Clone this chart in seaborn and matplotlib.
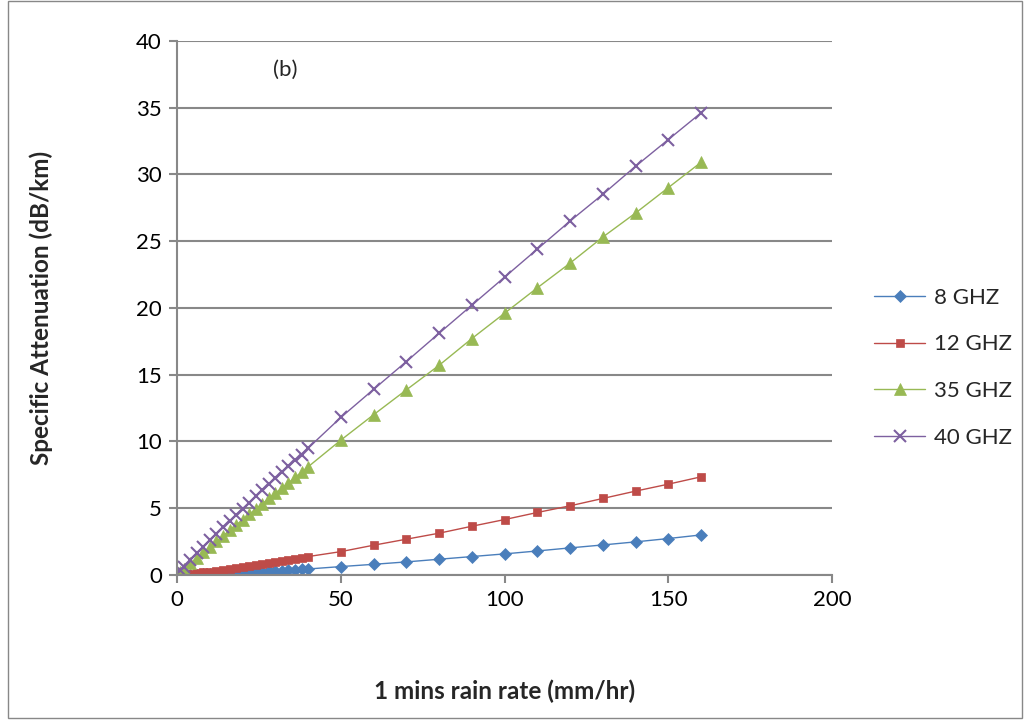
import matplotlib
matplotlib.use("Agg")
import matplotlib.pyplot as plt
import seaborn as sns
import pandas as pd
from matplotlib.patches import Rectangle

# rain rate (mm/hr)
rain_rate = [1, 2, 4, 6, 8, 10, 12, 14, 16, 18, 20, 22, 24, 26, 28, 30, 32, 34, 36, 38, 40,
             50, 60, 70, 80, 90, 100, 110, 120, 130, 140, 150, 160]

# specific attenuation (dB/km)
att_8 = [0.003, 0.007, 0.019, 0.034, 0.050, 0.068, 0.087, 0.107, 0.129, 0.151, 0.175,
         0.199, 0.224, 0.250, 0.277, 0.304, 0.332, 0.361, 0.391, 0.421, 0.45,
         0.63, 0.80, 0.98, 1.18, 1.38, 1.58, 1.80, 2.03, 2.25, 2.48, 2.73, 3.0]
att_12 = [0.016, 0.037, 0.086, 0.14, 0.198, 0.26, 0.32, 0.39, 0.46, 0.53, 0.60,
          0.67, 0.75, 0.82, 0.90, 0.98, 1.06, 1.14, 1.22, 1.30, 1.38,
          1.75, 2.23, 2.68, 3.13, 3.65, 4.15, 4.68, 5.18, 5.73, 6.28, 6.80, 7.35]
att_35 = [0.23, 0.45, 0.87, 1.29, 1.71, 2.12, 2.52, 2.93, 3.34, 3.74, 4.14,
          4.54, 4.93, 5.33, 5.73, 6.12, 6.51, 6.90, 7.30, 7.70, 8.1,
          10.1, 12.0, 13.86, 15.7, 17.7, 19.6, 21.5, 23.35, 25.3, 27.1, 29.0, 30.9]
att_40 = [0.40, 0.62, 1.11, 1.61, 2.11, 2.60, 3.08, 3.56, 4.03, 4.50, 4.96,
          5.42, 5.88, 6.34, 6.79, 7.24, 7.69, 8.13, 8.58, 9.02, 9.5,
          11.8, 13.9, 15.98, 18.1, 20.2, 22.3, 24.4, 26.5, 28.5, 30.6, 32.6, 34.6]

series_names = ["8 GHZ", "12 GHZ", "35 GHZ", "40 GHZ"]
colors = ["#4A7EBB", "#BE4B48", "#98B954", "#7D60A0"]
markers = ["D", "s", "^", "x"]
msizes = [6, 6, 9, 9]

df = pd.DataFrame({"rate": rain_rate * 4,
                   "att": att_8 + att_12 + att_35 + att_40,
                   "freq": sum([[n] * len(rain_rate) for n in series_names], [])})

sns.set_style("white")
plt.rcParams["font.family"] = ["Lato", "DejaVu Sans"]

fig = plt.figure(figsize=(10.24, 7.21), dpi=100)
ax = fig.add_axes([0.173, 0.2025, 0.6395, 0.741])

for name, c, m, s in zip(series_names, colors, markers, msizes):
    sns.lineplot(data=df[df["freq"] == name], x="rate", y="att", ax=ax,
                 color=c, marker=m, markersize=s, markeredgecolor=c,
                 markeredgewidth=1.5 if m == "x" else 0.5, linewidth=1.0,
                 label=name)

ax.set_xlim(0, 200)
ax.set_ylim(0, 40)
ax.set_xticks(range(0, 201, 50))
ax.set_yticks(range(0, 41, 5))
ax.grid(axis="y", color="#888888", linewidth=1.5)
ax.grid(axis="x", visible=False)
ax.set_axisbelow(True)
for sp in ["top", "right"]:
    ax.spines[sp].set_visible(False)
for sp in ["left", "bottom"]:
    ax.spines[sp].set_color("#888888")
    ax.spines[sp].set_linewidth(1.5)
ax.tick_params(axis="both", labelsize=16, colors="black", length=6, pad=5,
               width=1.5, direction="out", color="#888888", left=True, bottom=True)

ax.set_xlabel("1 mins rain rate (mm/hr)", fontsize=17.5, fontweight="bold")
ax.set_ylabel("Specific Attenuation (dB/km)", fontsize=17.5, fontweight="bold")
ax.xaxis.set_label_coords(0.5, -0.195)
ax.yaxis.set_label_coords(-0.19, 0.5)

ax.text(33, 37.8, "(b)", fontsize=16, ha="center", va="center")

ax.get_legend().remove()
fig.legend(*ax.get_legend_handles_labels(), loc="center left",
           bbox_to_anchor=(0.845, 0.49), frameon=False, borderaxespad=0,
           fontsize=16, handlelength=2.3, handletextpad=0.4,
           labelspacing=1.2, numpoints=1)

fig.patches.append(Rectangle((0.008, 0.004), 0.99, 0.994, transform=fig.transFigure,
                             fill=False, edgecolor="#888888", linewidth=1))

fig.savefig("out.png", dpi=100)
